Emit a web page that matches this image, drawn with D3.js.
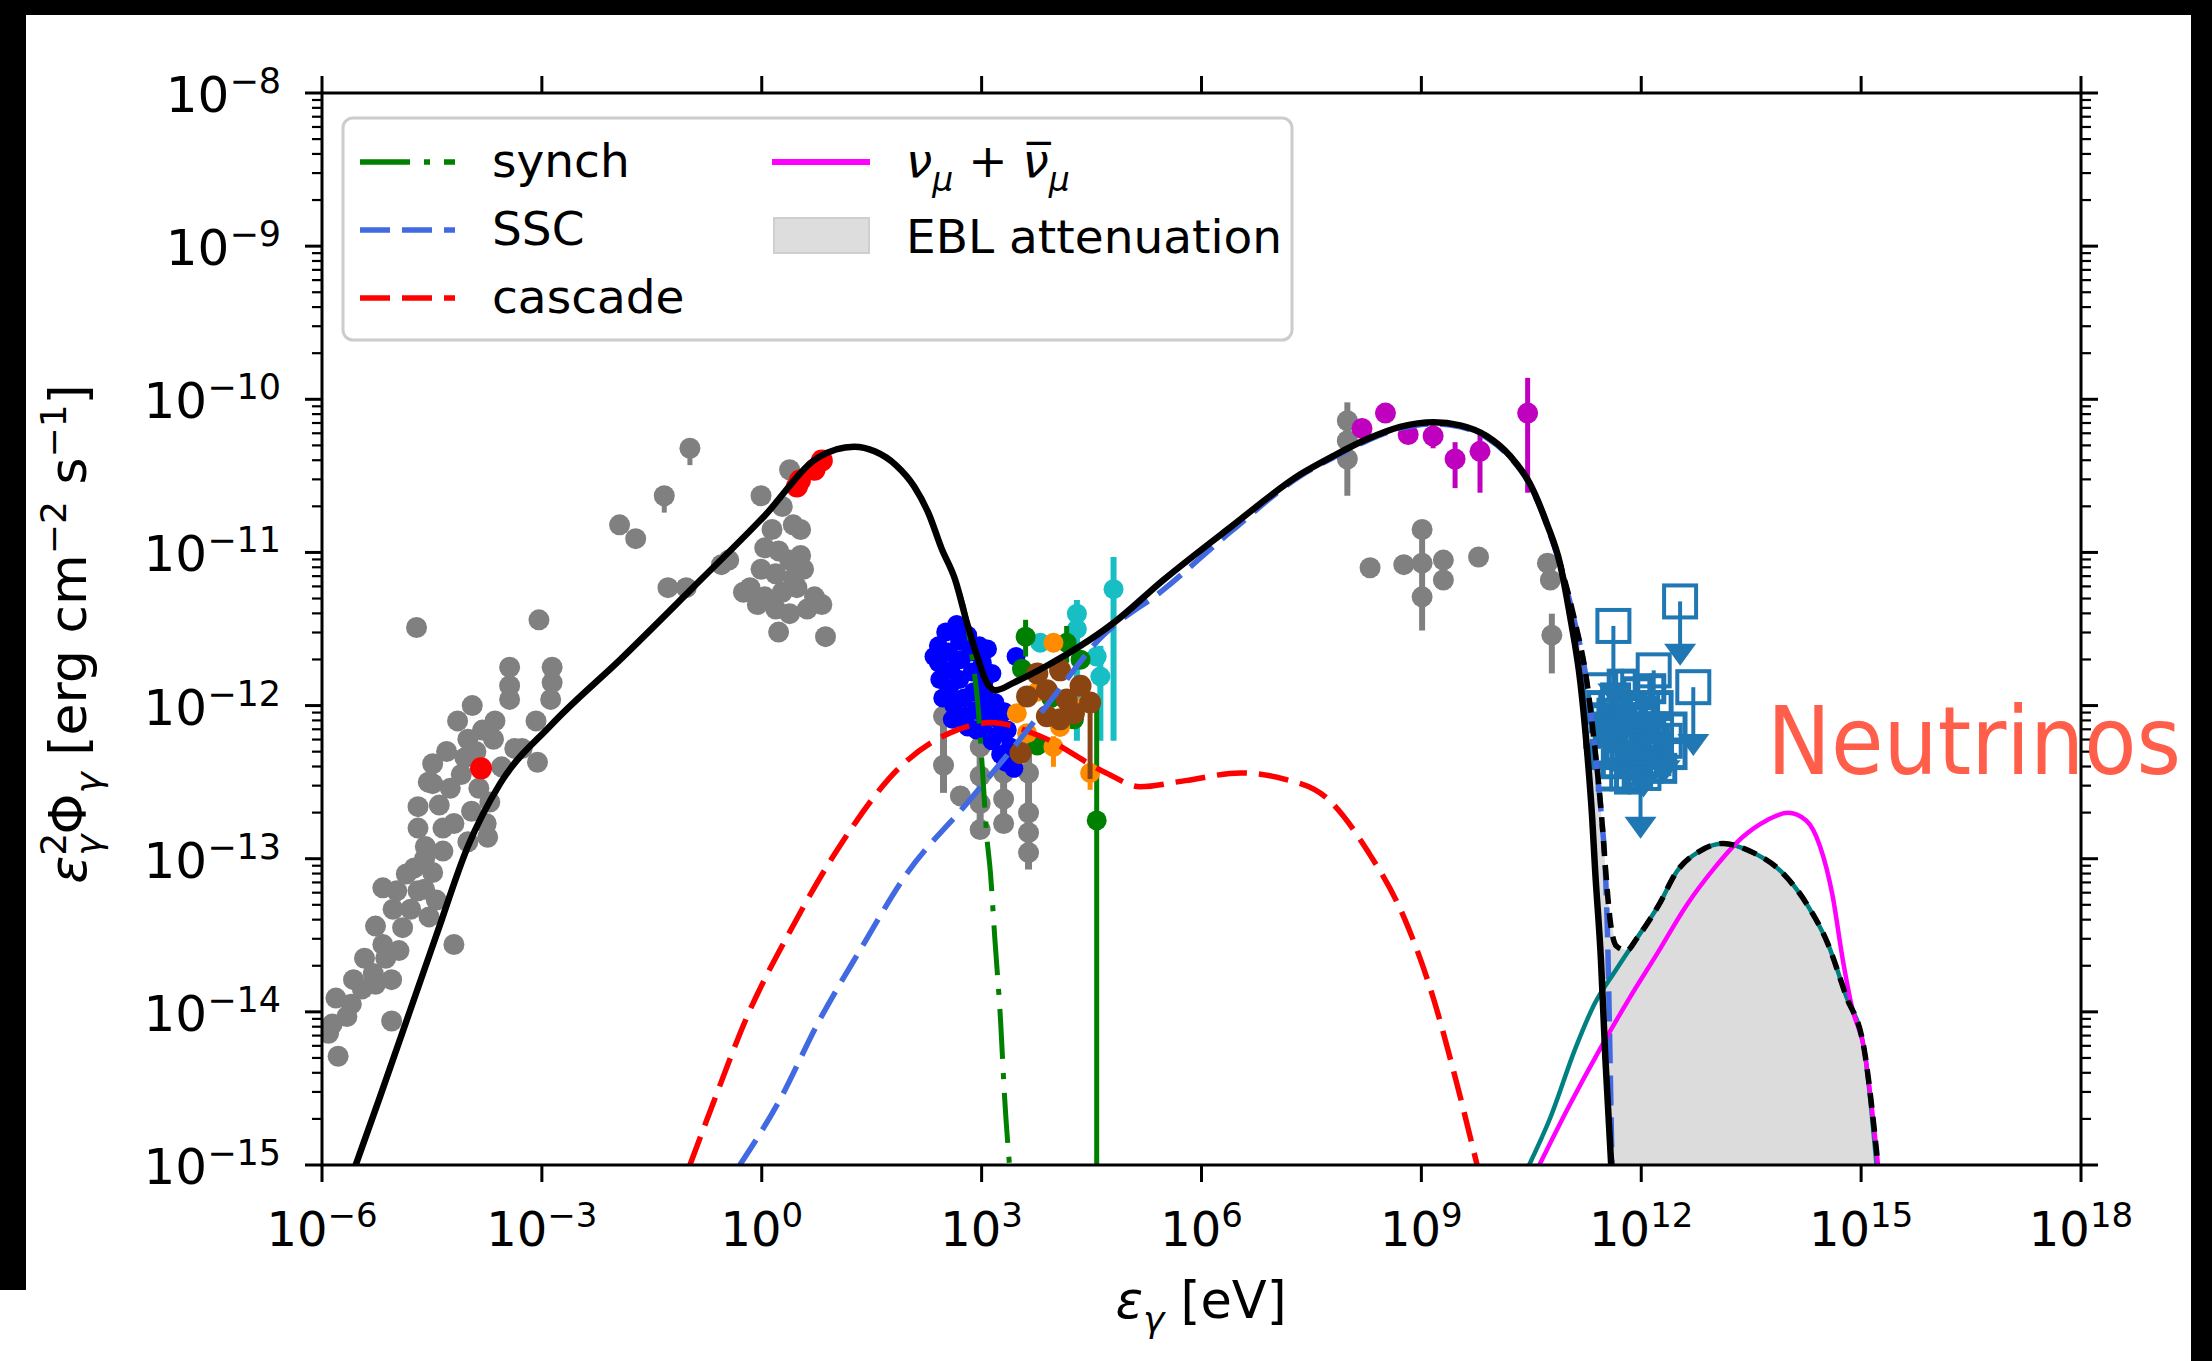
<!DOCTYPE html>
<html><head><meta charset="utf-8">
<script src="https://cdn.jsdelivr.net/npm/d3@7"></script>
<style>
html,body{margin:0;padding:0;background:#000;}
svg{display:block;}
text{font-family:"DejaVu Sans",sans-serif;fill:#000;}
</style></head><body>
<svg id="c" width="2212" height="1361"></svg>
<script>
// ---------- DATA (all values are log10(E/eV), log10(flux)) ----------
const xTickExp = [-6,-3,0,3,6,9,12,15,18];
const yTickExp = [-15,-14,-13,-12,-11,-10,-9,-8];
const legendLabels = ["synch","SSC","cascade","EBL attenuation"];

const synchLog = [[-5.54,-15.0],[-5.22,-14.57],[-4.44,-13.50],[-4.01,-12.92],[-3.57,-12.51],[-2.88,-12.13],[-1.91,-11.69],[-0.94,-11.23],[0.04,-10.76],[0.77,-10.38],[1.26,-10.31],[1.54,-10.34],[1.83,-10.43],[2.08,-10.57],[2.28,-10.75],[2.45,-10.97],[2.64,-11.18],[2.80,-11.46],[2.87,-11.68],[2.95,-12.00],[3.01,-12.41],[3.07,-12.85],[3.12,-13.09],[3.18,-13.52],[3.26,-14.07],[3.31,-14.53],[3.38,-15.0]];
const sscLog = [[-0.30,-15.0],[0.24,-14.58],[0.77,-14.07],[1.35,-13.59],[1.99,-13.09],[2.76,-12.66],[3.44,-12.27],[3.89,-12.00],[4.62,-11.56],[5.49,-11.24],[6.41,-10.86],[7.35,-10.50],[7.80,-10.38],[8.26,-10.27],[8.71,-10.19],[9.17,-10.16],[9.53,-10.18],[9.89,-10.25],[10.21,-10.38],[10.48,-10.56],[10.71,-10.82],[10.89,-11.08],[11.08,-11.43],[11.26,-11.86],[11.37,-12.30],[11.46,-12.74],[11.51,-13.07],[11.54,-13.5],[11.57,-14.2],[11.60,-15.0]];
const cascadeLog = [[-0.98,-15.0],[-0.65,-14.58],[-0.19,-14.02],[0.39,-13.47],[1.06,-12.92],[1.89,-12.40],[2.66,-12.16],[3.12,-12.11],[3.80,-12.20],[4.70,-12.44],[5.16,-12.53],[5.78,-12.49],[6.53,-12.44],[7.13,-12.48],[7.70,-12.60],[8.28,-12.96],[8.76,-13.38],[9.15,-13.89],[9.49,-14.48],[9.76,-15.0]];
const totalLog = [[-5.54,-15.0],[-5.22,-14.57],[-4.44,-13.50],[-4.01,-12.92],[-3.57,-12.51],[-2.88,-12.13],[-1.91,-11.69],[-0.94,-11.23],[0.04,-10.76],[0.77,-10.38],[1.26,-10.31],[1.54,-10.34],[1.83,-10.43],[2.08,-10.57],[2.28,-10.75],[2.45,-10.97],[2.64,-11.18],[2.80,-11.46],[2.94,-11.68],[3.07,-11.85],[3.19,-11.90],[3.44,-11.85],[3.89,-11.74],[4.35,-11.61],[4.80,-11.46],[5.48,-11.18],[6.41,-10.83],[7.35,-10.49],[7.80,-10.37],[8.26,-10.26],[8.71,-10.18],[9.17,-10.15],[9.53,-10.17],[9.89,-10.24],[10.21,-10.37],[10.48,-10.55],[10.71,-10.81],[10.89,-11.07],[11.03,-11.42],[11.17,-11.85],[11.26,-12.29],[11.33,-12.73],[11.37,-13.07],[11.45,-13.66],[11.51,-14.30],[11.59,-15.0]];
const totalNoEBLLog = [[9.89,-10.24],[10.21,-10.37],[10.48,-10.55],[10.71,-10.81],[10.89,-11.07],[11.08,-11.42],[11.26,-11.85],[11.37,-12.29],[11.46,-12.73],[11.51,-13.05],[11.57,-13.38],[11.66,-13.57],[11.80,-13.60],[11.94,-13.52],[12.23,-13.31],[12.49,-13.08],[12.80,-12.95],[13.12,-12.90],[13.48,-12.95],[13.90,-13.08],[14.25,-13.29],[14.55,-13.56],[14.79,-13.89],[15.04,-14.24],[15.23,-15.0]];
const hadronicLog = [[10.47,-15.0],[10.76,-14.69],[11.10,-14.24],[11.36,-13.95],[11.65,-13.73],[11.94,-13.52],[12.23,-13.31],[12.49,-13.08],[12.80,-12.95],[13.12,-12.90],[13.48,-12.95],[13.90,-13.08],[14.25,-13.29],[14.55,-13.56],[14.79,-13.89],[15.04,-14.24],[15.21,-15.0]];
const neutrinoLog = [[10.61,-15.0],[11.01,-14.62],[11.44,-14.24],[11.84,-13.91],[12.23,-13.61],[12.61,-13.31],[13.00,-13.06],[13.38,-12.86],[13.71,-12.75],[14.00,-12.70],[14.25,-12.75],[14.44,-12.92],[14.61,-13.24],[14.75,-13.66],[14.88,-13.98],[15.04,-14.24],[15.23,-15.0]];

// data points: [logE, logF, (logLow, logHigh)]
const grayLowE = [[-0.98,-10.32,-10.43,-10.28],[-1.33,-10.63,-10.74,-10.60],[-1.94,-10.82],[-1.72,-10.91],[-4.71,-11.49],[-3.04,-11.44],[-0.01,-10.63],[0.38,-10.46],
[0.28,-10.70],[0.43,-10.82],[0.14,-10.85],[0.04,-10.97],[0.23,-10.99],[0.38,-11.05],[0.53,-11.02],[-0.01,-11.11],[0.19,-11.14],[0.43,-11.17],[0.57,-11.11],[-0.16,-11.23],[-0.25,-11.26],[0.04,-11.29],[0.28,-11.26],[0.48,-11.23],[0.72,-11.29],[0.82,-11.34],[0.19,-11.37],[0.38,-11.40],[0.62,-11.37],[0.23,-11.52],[0.87,-11.55],[0.53,-10.85],[-0.06,-11.34],
[-0.55,-11.08],[-0.45,-11.05],[-1.03,-11.23],[-1.28,-11.23],
[-3.44,-11.75],[-3.44,-11.87],[-3.44,-11.96],[-2.86,-11.75],[-2.86,-11.85],[-2.88,-11.96],
[-3.08,-12.10],[-3.06,-12.37],[-3.27,-12.28],[-3.64,-12.10],[-3.81,-12.16],[-4.01,-12.22],[-4.05,-12.34],[-4.49,-12.38],[-4.49,-12.51],[-4.25,-12.54],[-3.86,-12.54],[-3.71,-12.63],[-3.96,-12.69],[-4.69,-12.66],[-4.69,-12.80],[-4.20,-12.77],[-4.59,-12.92],[-4.35,-12.95],[-4.01,-12.89],[-3.76,-12.77],[-4.74,-13.06],[-4.49,-13.09],[-4.69,-13.21],[-4.44,-13.27],[-4.79,-13.33],[-4.54,-13.38],[-4.20,-13.56],[-5.17,-13.19],[-4.98,-13.21],[-5.03,-13.33],[-5.27,-13.44],[-5.17,-13.56],[-5.42,-13.65],[-5.13,-13.65],[-5.05,-13.79],[-5.57,-13.79],[-5.27,-13.82],[-5.81,-13.91],[-5.66,-14.03],[-5.86,-14.08],[-5.91,-14.14],[-5.05,-14.06],[-5.78,-14.29],
[-4.30,-12.30],[-4.10,-12.45],[-4.40,-12.65],[-3.90,-12.30],[-4.60,-13.00],[-4.90,-13.45],[-5.30,-13.75],[-5.60,-13.95],[-4.15,-12.10],[-3.95,-12.00],[-3.37,-12.28],[-3.74,-12.86],
[-4.55,-12.50],[-4.35,-12.80],[-4.85,-13.10],[-4.60,-13.20],[-4.95,-13.60],[-5.45,-13.85],[-3.55,-12.40],[-3.66,-12.22]];
const grayXray = [[2.48,-12.07,-12.57,-12.03],[2.48,-12.39],[2.71,-12.59],[2.98,-12.11,-12.85,-12.07],[2.98,-12.27],[2.98,-12.46],[2.98,-12.64],[2.98,-12.81],[3.30,-12.44,-12.80,-12.40],[3.30,-12.61],[3.30,-12.77],[3.64,-12.22,-13.07,-12.18],[3.64,-12.44],[3.64,-12.70],[3.64,-12.83],[3.64,-12.96]];
const grayGamma = [[7.99,-10.14,-10.63,-10.02],[7.99,-10.27],[7.99,-10.39],[8.30,-11.10],[8.76,-11.08],[9.01,-10.85,-11.51,-10.79],[9.01,-11.07],[9.01,-11.29],[9.30,-11.05],[9.30,-11.18],[9.78,-11.03],[10.72,-11.07],[10.76,-11.18],[10.78,-11.54,-11.79,-11.40]];
const redPts = [[-3.83,-12.41],[0.48,-10.57],[0.52,-10.53],[0.72,-10.46],[0.82,-10.40]];
const bluePts = [[2.41,-11.61],[2.41,-11.72],[2.43,-11.83],[2.47,-11.95],[2.51,-11.52],[2.55,-11.65],[2.58,-11.77],[2.56,-11.89],[2.62,-12.00],[2.66,-11.47],[2.70,-11.58],[2.72,-11.70],[2.70,-11.83],[2.76,-11.95],[2.78,-12.07],[2.81,-11.54],[2.85,-11.65],[2.87,-11.78],[2.89,-11.91],[2.93,-12.03],[2.97,-11.61],[3.01,-11.72],[3.03,-11.85],[3.06,-11.96],[3.10,-12.07],[3.14,-11.79],[3.18,-11.98],[3.22,-12.09],[3.26,-12.18],[3.31,-12.04],[3.35,-12.16],[3.39,-12.27],[3.33,-12.37],[3.26,-12.32],[3.44,-12.41],[2.81,-12.14],[2.93,-12.16],[3.05,-12.18],[3.14,-12.23],[2.60,-12.09],[3.47,-11.68],[2.35,-11.68],[3.08,-11.63]];
const greenPts = [[3.60,-11.55,-11.68,-11.44],[3.55,-11.76],[4.16,-11.59,-11.72,-11.48],[4.35,-11.70],[4.26,-12.09],[4.57,-12.75,-15.5,-12.00],[3.76,-12.26],[3.95,-11.95]];
const orangePts = [[3.98,-11.59],[3.48,-12.05],[4.07,-12.14],[3.98,-12.27,-12.40,-12.20],[4.48,-12.44,-12.55,-12.38],[4.26,-12.01],[3.76,-11.91],[3.62,-12.18]];
const brownPts = [[3.76,-11.79],[4.07,-11.77],[4.35,-11.87],[3.62,-11.94],[3.89,-11.90],[4.16,-11.96],[3.89,-12.07],[4.26,-12.05],[4.48,-11.98,-12.48,-11.95],[3.53,-12.31],[4.07,-12.09]];
const cyanPts = [[4.80,-11.24,-12.23,-11.03],[4.30,-11.40,-12.23,-11.31],[4.62,-11.81,-12.23,-11.61],[3.80,-11.59],[4.57,-11.68],[4.30,-11.50]];
const lateGammaPts = [[8.19,-10.19,-10.24,-10.14],[8.51,-10.09],[8.82,-10.23,-10.28,-10.19],[9.16,-10.24,-10.32,-10.17],[9.46,-10.39,-10.58,-10.28],[9.80,-10.34,-10.61,-10.20],[10.45,-10.09,-10.61,-9.86]];
// upper limits: [logE, logF, logF at arrow tip]
const vheUL = [[11.62,-11.48,-12.00],[12.53,-11.32,-11.74],[12.17,-11.77,-12.18],[12.71,-11.88,-12.33],[11.44,-11.90,-12.23],[11.99,-12.27,-12.87],[12.32,-12.23,-12.50],[12.03,-12.44,-12.60]];
const vhePts = [[11.46,-12.00],[11.55,-12.14],[11.65,-11.95],[11.74,-12.09],[11.84,-12.00],[11.94,-12.18],[12.03,-12.04],[12.13,-12.14],[12.23,-12.00],[11.51,-12.32],[11.71,-12.27],[11.90,-12.37],[12.09,-12.32],[12.28,-12.41],[11.59,-12.46],[11.84,-12.48],[12.42,-12.14],[11.74,-11.86],[11.94,-11.91],[12.13,-11.89],[11.42,-12.18],[12.23,-12.27],[12.42,-12.32],
[11.60,-12.05],[11.80,-12.20],[11.99,-12.10],[12.18,-12.22],[11.66,-12.38],[11.95,-12.43],[12.06,-12.20],[11.50,-12.08],[11.78,-12.33],[12.20,-12.36],[11.88,-12.08],[11.68,-12.17]];

// ---------- CHART ----------
const W=2212,H=1361;
const svg=d3.select('#c');
svg.append('rect').attr('width',W).attr('height',H).attr('fill','#000');
svg.append('rect').attr('x',26).attr('y',15).attr('width',2191-26).attr('height',H-15).attr('fill','#fff');
svg.append('rect').attr('x',0).attr('y',1290).attr('width',30).attr('height',H-1290).attr('fill','#fff');

const m={l:322,r:2081,t:93,b:1165};
const x=d3.scaleLog().domain([1e-6,1e18]).range([m.l,m.r]);
const y=d3.scaleLog().domain([1e-15,1e-8]).range([m.b,m.t]);
const p10=v=>Math.pow(10,v);
const X=d=>x(p10(d[0])), Y=d=>y(p10(d[1]));

svg.append('defs').append('clipPath').attr('id','clip').append('rect')
  .attr('x',m.l).attr('y',m.t).attr('width',m.r-m.l).attr('height',m.b-m.t);
const plot=svg.append('g').attr('clip-path','url(#clip)');

// EBL attenuation fill
const fillPts = totalNoEBLLog.filter(d=>d[0]>=10.89).map(d=>[X(d),Y(d)])
  .concat(totalLog.filter(d=>d[0]>=10.89).reverse().map(d=>[X(d),Y(d)]));
plot.append('path').attr('d',d3.line()(fillPts)+'Z').attr('fill','#dcdcdc').attr('stroke','none');

// data points
function drawPts(arr,color,r,ew){
  const g=plot.append('g');
  arr.forEach(d=>{ if(d.length>2){
    g.append('line').attr('x1',X(d)).attr('x2',X(d)).attr('y1',y(p10(d[2]))).attr('y2',y(p10(d[3])))
     .attr('stroke',color).attr('stroke-width',ew);
  }});
  g.selectAll('circle').data(arr).join('circle').attr('cx',X).attr('cy',Y).attr('r',r).attr('fill',color);
}
drawPts(grayLowE,'#808080',10.5,5);
drawPts(grayXray,'#808080',10.5,7);
drawPts(grayGamma,'#808080',10.5,6);
drawPts(redPts,'#ff0000',11,5);
drawPts(bluePts,'#0000ff',9.5,4);
drawPts(cyanPts,'#17bfc4',10,6);
drawPts(greenPts,'#008000',10,5);
drawPts(orangePts,'#ff8c00',10,5);
drawPts(brownPts,'#8b4513',11,5);
drawPts(lateGammaPts,'#bf00bf',10.5,5);

// VHE points (open squares) and upper limits
const vc='#1f77b4';
const gv=plot.append('g');
vhePts.forEach(d=>{
  gv.append('line').attr('x1',X(d)).attr('x2',X(d)).attr('y1',y(p10(d[1]-0.1))).attr('y2',y(p10(d[1]+0.1)))
    .attr('stroke',vc).attr('stroke-width',4);
});
gv.selectAll('rect.c').data(vhePts).join('rect').attr('class','c')
  .attr('x',d=>X(d)-13).attr('y',d=>Y(d)-13).attr('width',26).attr('height',26)
  .attr('fill','none').attr('stroke',vc).attr('stroke-width',5);
vheUL.forEach(d=>{
  const px=X(d), py=Y(d), ty=y(p10(d[2]));
  gv.append('line').attr('x1',px).attr('x2',px).attr('y1',py).attr('y2',ty-10).attr('stroke',vc).attr('stroke-width',4);
  gv.append('path').attr('d',`M${px-16},${ty-22}L${px+16},${ty-22}L${px},${ty}Z`).attr('fill',vc);
  gv.append('rect').attr('x',px-16).attr('y',py-16).attr('width',32).attr('height',32)
    .attr('fill','none').attr('stroke',vc).attr('stroke-width',4);
});

// model lines
const lineGen=d3.line().x(X).y(Y).curve(d3.curveMonotoneX);
function drawLine(arr,color,w,dash){
  const p=plot.append('path').attr('d',lineGen(arr)).attr('fill','none').attr('stroke',color)
   .attr('stroke-width',w).attr('stroke-linejoin','round');
  if(dash) p.attr('stroke-dasharray',dash);
}
drawLine(cascadeLog,'#ff0000',5.5,'30,12');
drawLine(sscLog,'#4169e1',5.5,'30,12');
drawLine(synchLog,'#008000',5,'50,14,6,14');
drawLine(hadronicLog,'#008080',4.5,null);
drawLine(neutrinoLog,'#ff00ff',4.5,null);
drawLine(totalNoEBLLog,'#000',5.5,'15,9');
drawLine(totalLog,'#000',6.5,null);

// axes frame
const ax=svg.append('g');
ax.append('rect').attr('x',m.l).attr('y',m.t).attr('width',m.r-m.l).attr('height',m.b-m.t)
  .attr('fill','none').attr('stroke','#000').attr('stroke-width',3);
// x ticks
xTickExp.forEach(e=>{
  const px=x(p10(e));
  ax.append('line').attr('x1',px).attr('x2',px).attr('y1',m.b).attr('y2',m.b+17).attr('stroke','#000').attr('stroke-width',3);
  ax.append('line').attr('x1',px).attr('x2',px).attr('y1',m.t).attr('y2',m.t-17).attr('stroke','#000').attr('stroke-width',3);
  const t=ax.append('text').attr('x',px).attr('y',1246).attr('text-anchor','middle').attr('font-size',48);
  t.append('tspan').text('10');
  t.append('tspan').attr('dy',-19).attr('font-size',34).text(e<0?'\u2212'+Math.abs(e):''+e);
});
// y ticks
yTickExp.forEach(e=>{
  const py=y(p10(e));
  ax.append('line').attr('x1',m.l-17).attr('x2',m.l).attr('y1',py).attr('y2',py).attr('stroke','#000').attr('stroke-width',3);
  ax.append('line').attr('x1',m.r).attr('x2',m.r+17).attr('y1',py).attr('y2',py).attr('stroke','#000').attr('stroke-width',3);
  if(e<-8){
    for(let k=2;k<=9;k++){
      const pm=y(k*p10(e));
      ax.append('line').attr('x1',m.l-10).attr('x2',m.l).attr('y1',pm).attr('y2',pm).attr('stroke','#000').attr('stroke-width',2.2);
      ax.append('line').attr('x1',m.r).attr('x2',m.r+10).attr('y1',pm).attr('y2',pm).attr('stroke','#000').attr('stroke-width',2.2);
    }
  }
  const t=ax.append('text').attr('x',281).attr('y',py+19).attr('text-anchor','end').attr('font-size',50);
  t.append('tspan').text('10');
  t.append('tspan').attr('dy',-19).attr('font-size',35).text('\u2212'+Math.abs(e));
});

// axis labels
const xl=ax.append('text').attr('x',1201).attr('y',1318).attr('text-anchor','middle').attr('font-size',51);
xl.append('tspan').attr('font-style','italic').text('\u03b5');
xl.append('tspan').attr('font-style','italic').attr('font-size',36).attr('dy',14).text('\u03b3');
xl.append('tspan').attr('dy',-14).text(' [eV]');

const yl=ax.append('text').attr('transform','translate(86,634) rotate(-90)').attr('text-anchor','middle').attr('font-size',52);
yl.append('tspan').attr('font-style','italic').text('\u03b5');
yl.append('tspan').attr('font-size',36).attr('dy',-20).text('2');
yl.append('tspan').attr('font-size',36).attr('font-style','italic').attr('dx',-23).attr('dy',35).text('\u03b3');
yl.append('tspan').attr('dy',-15).text('\u03a6');
yl.append('tspan').attr('font-size',36).attr('font-style','italic').attr('dy',15).text('\u03b3');
yl.append('tspan').attr('dy',-15).text(' [erg cm');
yl.append('tspan').attr('font-size',36).attr('dy',-20).text('\u22122');
yl.append('tspan').attr('dy',20).text(' s');
yl.append('tspan').attr('font-size',36).attr('dy',-20).text('\u22121');
yl.append('tspan').attr('dy',20).text(']');

// legend
const lg=svg.append('g');
lg.append('rect').attr('x',343).attr('y',118).attr('width',949).attr('height',222).attr('rx',10)
  .attr('fill','#fff').attr('fill-opacity',0.85).attr('stroke','#cccccc').attr('stroke-width',3);
const rows=[{lab:legendLabels[0],c:'#008000',dash:'50,14,6,14',ly:162,ty:177},
            {lab:legendLabels[1],c:'#4169e1',dash:'30,12',ly:230,ty:245},
            {lab:legendLabels[2],c:'#ff0000',dash:'30,12',ly:298,ty:313}];
rows.forEach(r=>{
  lg.append('line').attr('x1',360).attr('x2',455).attr('y1',r.ly).attr('y2',r.ly)
    .attr('stroke',r.c).attr('stroke-width',5.5).attr('stroke-dasharray',r.dash);
  lg.append('text').attr('x',492).attr('y',r.ty).attr('font-size',47).text(r.lab);
});
lg.append('line').attr('x1',772).attr('x2',870).attr('y1',162).attr('y2',162).attr('stroke','#ff00ff').attr('stroke-width',6);
const nt=lg.append('text').attr('x',906).attr('y',177).attr('font-size',47);
nt.append('tspan').attr('font-style','italic').text('\u03bd');
nt.append('tspan').attr('font-style','italic').attr('font-size',33).attr('dy',14).text('\u03bc');
nt.append('tspan').attr('dy',-14).text(' + ');
nt.append('tspan').attr('font-style','italic').text('\u03bd\u0305');
nt.append('tspan').attr('font-style','italic').attr('font-size',33).attr('dy',14).text('\u03bc');
lg.append('rect').attr('x',774).attr('y',218).attr('width',95).attr('height',35).attr('fill','#dddddd').attr('stroke','#cfcfcf').attr('stroke-width',2);
lg.append('text').attr('x',906).attr('y',253).attr('font-size',47).text(legendLabels[3]);

// slide annotation
svg.append('text').attr('x',1767).attr('y',774).attr('font-family','"Liberation Sans", Arial, sans-serif')
  .attr('font-size',94).attr('textLength',414).attr('lengthAdjust','spacingAndGlyphs')
  .style('fill','#ff5f4a').text('Neutrinos');
</script></body></html>
